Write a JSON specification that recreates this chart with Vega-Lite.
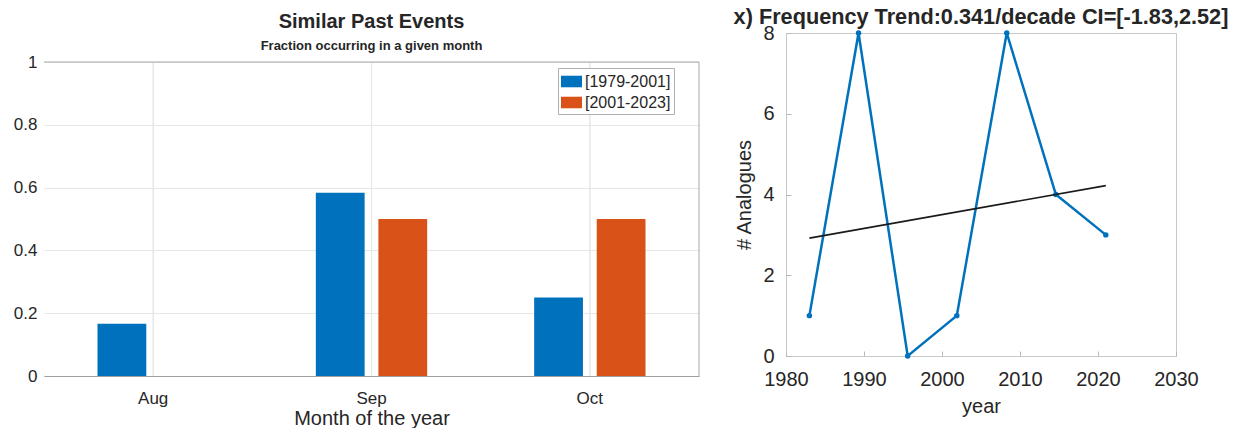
{
  "$schema": "https://vega.github.io/schema/vega-lite/v6.json",
  "padding": {"left": 13, "top": 6, "right": 3, "bottom": 0},
  "background": "white",
  "config": {
    "font": "Liberation Sans",
    "title": {"color": "#262626", "fontWeight": "bold"},
    "axis": {"labelColor": "#262626", "titleColor": "#262626", "titleFontWeight": "normal", "labelFont": "Liberation Sans", "titleFont": "Liberation Sans"},
    "legend": {"labelColor": "#262626"}
  },
  "spacing": 33,
  "datasets": {
    "bars": [
      {"month": "Aug", "period": "[1979-2001]", "fraction": 0.1667},
      {"month": "Aug", "period": "[2001-2023]", "fraction": 0},
      {"month": "Sep", "period": "[1979-2001]", "fraction": 0.5833},
      {"month": "Sep", "period": "[2001-2023]", "fraction": 0.5},
      {"month": "Oct", "period": "[1979-2001]", "fraction": 0.25},
      {"month": "Oct", "period": "[2001-2023]", "fraction": 0.5}
    ],
    "series": [
      {"year": 1983.0, "count": 1},
      {"year": 1989.3, "count": 8},
      {"year": 1995.6, "count": 0},
      {"year": 2001.9, "count": 1},
      {"year": 2008.3, "count": 8},
      {"year": 2014.6, "count": 4},
      {"year": 2021.0, "count": 3}
    ],
    "trend": [
      {"year": 1983.0, "count": 2.92},
      {"year": 2021.0, "count": 4.22}
    ]
  },
  "hconcat": [
    {
      "width": 655,
      "height": 343,
      "view": {"stroke": null},
      "title": {
        "text": "Similar Past Events",
        "subtitle": "Fraction occurring in a given month",
        "fontSize": 20,
        "subtitleFontSize": 13,
        "subtitleFontWeight": "bold",
        "subtitleColor": "#262626",
        "subtitlePadding": 8,
        "anchor": "middle",
        "offset": -20
      },
      "layer": [
        {
          "data": {"name": "bars"},
          "mark": {"type": "rule", "color": "#e6e6e6", "strokeWidth": 1},
          "encoding": {
            "x": {
              "field": "month",
              "type": "nominal",
              "sort": ["Aug", "Sep", "Oct"],
              "scale": {"paddingInner": 0.49, "paddingOuter": 0.245},
              "axis": {
                "title": "Month of the year",
                "titleFontSize": 20,
                "titlePadding": 2,
                "labelFontSize": 17,
                "labelAngle": 0,
                "labelPadding": 14,
                "bandPosition": 0.5,
                "grid": false,
                "ticks": false,
                "domain": true,
                "domainColor": "#a0a0a0"
              }
            },
            "y": {"datum": 0},
            "y2": {"datum": 1}
          }
        },
        {
          "data": {"name": "bars"},
          "mark": {"type": "bar"},
          "encoding": {
            "x": {
              "field": "month",
              "type": "nominal",
              "sort": ["Aug", "Sep", "Oct"],
              "scale": {"paddingInner": 0.49, "paddingOuter": 0.245},
              "axis": {
                "title": "Month of the year",
                "titleFontSize": 20,
                "titlePadding": 2,
                "labelFontSize": 17,
                "labelAngle": 0,
                "labelPadding": 14,
                "bandPosition": 0.5,
                "grid": false,
                "ticks": false,
                "domain": true,
                "domainColor": "#a0a0a0"
              }
            },
            "xOffset": {"field": "period", "scale": {"paddingInner": 0.22}},
            "y": {
              "field": "fraction",
              "type": "quantitative",
              "scale": {"domain": [0, 1.0924], "nice": false},
              "axis": {
                "title": null,
                "values": [0, 0.2, 0.4, 0.6, 0.8, 1],
                "format": "~g",
                "labelFontSize": 17,
                "labelPadding": 7,
                "ticks": false,
                "domain": false,
                "grid": true,
                "gridColor": "#e6e6e6"
              }
            },
            "color": {
              "field": "period",
              "type": "nominal",
              "scale": {"domain": ["[1979-2001]", "[2001-2023]"], "range": ["#0072BD", "#D95319"]},
              "legend": {
                "title": null,
                "orient": "none",
                "legendX": 514,
                "legendY": 35,
                "strokeColor": "#b0b0b0",
                "fillColor": "white",
                "padding": 3,
                "symbolType": "M-1,-0.55H1V0.55H-1Z",
                "symbolSize": 441,
                "symbolStrokeWidth": 0,
                "symbolOpacity": 1,
                "labelFontSize": 16,
                "labelOffset": 3,
                "rowPadding": 2
              }
            }
          }
        },
        {
          "data": {"values": [{}]},
          "mark": {"type": "rule", "color": "#a8a8a8", "strokeWidth": 1},
          "encoding": {
            "y": {"datum": 1}
          }
        },
        {
          "data": {"values": [{}]},
          "mark": {"type": "rule", "color": "#a8a8a8", "strokeWidth": 1},
          "encoding": {
            "x": {"datum": "Oct", "bandPosition": 1.4804},
            "y": {"datum": 0},
            "y2": {"datum": 1}
          }
        }
      ]
    },
    {
      "width": 390,
      "height": 323,
      "view": {"stroke": "#c8c8c8", "strokeWidth": 1},
      "title": {
        "text": "x) Frequency Trend:0.341/decade CI=[-1.83,2.52]",
        "fontSize": 21.7,
        "anchor": "middle",
        "offset": -6
      },
      "layer": [
        {
          "data": {"name": "series"},
          "mark": {"type": "line", "color": "#0072BD", "strokeWidth": 2.5, "point": {"filled": true, "size": 30, "color": "#0072BD"}},
          "encoding": {
            "x": {
              "field": "year",
              "type": "quantitative",
              "scale": {"domain": [1980, 2030], "nice": false, "zero": false},
              "axis": {
                "title": "year",
                "titleFontSize": 20,
                "titlePadding": 7,
                "values": [1980, 1990, 2000, 2010, 2020, 2030],
                "format": "d",
                "labelFontSize": 20,
                "labelPadding": 18,
                "grid": false,
                "domain": false,
                "tickColor": "#b8b8b8",
                "tickSize": -5,
                "labelFlush": false
              }
            },
            "y": {
              "field": "count",
              "type": "quantitative",
              "scale": {"domain": [0, 8], "nice": false},
              "axis": {
                "title": "# Analogues",
                "titleFontSize": 20,
                "titlePadding": 8,
                "values": [0, 2, 4, 6, 8],
                "labelFontSize": 20,
                "labelPadding": 17,
                "grid": false,
                "domain": false,
                "tickColor": "#b8b8b8",
                "tickSize": -5
              }
            }
          }
        },
        {
          "data": {"name": "trend"},
          "mark": {"type": "line", "color": "#1a1a1a", "strokeWidth": 1.6},
          "encoding": {
            "x": {"field": "year", "type": "quantitative"},
            "y": {"field": "count", "type": "quantitative"}
          }
        }
      ]
    }
  ]
}
